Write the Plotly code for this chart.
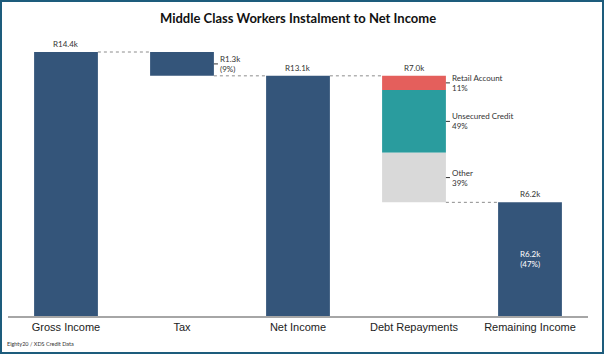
import plotly.graph_objects as go

categories = ["Gross Income", "Tax", "Net Income", "Debt Repayments", "Remaining Income"]
gross = 14.4
tax = 1.3
net = 13.1
debt_total = 7.0
debt_names = ["Retail Account", "Unsecured Credit", "Other"]
debt_values = [0.77, 3.43, 2.7]
debt_pcts = ["11%", "49%", "39%"]
debt_colors = ["#e45f5c", "#2a9c9e", "#d9d9d9"]
remaining = 6.2
tax_pct = "(9%)"
remaining_pct = "(47%)"

navy = "#34557a"
W = 0.55
fig = go.Figure()

fig.add_trace(go.Bar(x=[categories[0]], y=[gross], base=[0], marker_color=navy, width=W))
fig.add_trace(go.Bar(x=[categories[1]], y=[tax], base=[gross - tax], marker_color=navy, width=W))
fig.add_trace(go.Bar(x=[categories[2]], y=[net], base=[0], marker_color=navy, width=W))
top = net
seg_centers = []
for name, v, c in zip(debt_names, debt_values, debt_colors):
    fig.add_trace(go.Bar(x=[categories[3]], y=[v], base=[top - v], marker_color=c, width=W))
    seg_centers.append(top - v / 2)
    top -= v
debt_bottom = top
fig.add_trace(go.Bar(x=[categories[4]], y=[remaining], base=[0], marker_color=navy, width=W))
fig.update_traces(marker_line_width=0, showlegend=False, hoverinfo="skip")

# connectors
conn = [(0, gross), (1, gross - tax), (2, net), (3, debt_bottom)]
for i, yv in conn:
    fig.add_shape(type="line", xref="x", yref="y", x0=i + W / 2, x1=i + 1 - W / 2, y0=yv, y1=yv,
                  line=dict(color="#8c8c8c", width=1, dash="dot"))

lab = dict(family="Lato, Open Sans, sans-serif", size=8, color="#333333")
ann = []
ann.append(dict(x=0, y=gross, text="R%.1fk" % gross, yanchor="bottom", yshift=1))
ann.append(dict(x=2, y=net, text="R%.1fk" % net, yanchor="bottom", yshift=1))
ann.append(dict(x=3, y=net, text="R%.1fk" % debt_total, yanchor="bottom", yshift=1))
ann.append(dict(x=4, y=remaining, text="R%.1fk" % remaining, yanchor="bottom", yshift=1))
ann.append(dict(x=1 + W / 2, y=gross - tax / 2, text="R%.1fk<br>%s" % (tax, tax_pct), xanchor="left", xshift=4, align="left"))
for (name, pct, yc) in zip(debt_names, debt_pcts, seg_centers):
    ann.append(dict(x=3 + W / 2, y=yc, text="%s<br>%s" % (name, pct), xanchor="left", xshift=4, align="left"))
ann.append(dict(x=4, y=remaining / 2, text="R%.1fk<br>%s" % (remaining, remaining_pct),
                font=dict(family="Lato, Open Sans, sans-serif", size=8, color="white")))
for a in ann:
    a.setdefault("xanchor", "center")
    a.setdefault("font", lab)
    fig.add_annotation(xref="x", yref="y", showarrow=False, **a)

# small tick marks beside side labels
for yc in [gross - tax / 2] + seg_centers:
    xi = (1 if yc > net else 3) + W / 2
    fig.add_shape(type="line", xref="x", yref="y", x0=xi, x1=xi + 0.035, y0=yc, y1=yc,
                  line=dict(color="#333333", width=1))

fig.add_annotation(xref="paper", yref="paper", x=0.5, y=1.0, yshift=12, yanchor="middle", showarrow=False,
                   text="<b>Middle Class Workers Instalment to Net Income</b>",
                   font=dict(family="Lato, Open Sans, sans-serif", size=13, color="#111111"))
fig.add_annotation(xref="paper", yref="paper", x=-0.005, y=0, yshift=-28, xanchor="left", yanchor="middle",
                   showarrow=False, text="Eighty20 / XDS Credit Data",
                   font=dict(family="Lato, sans-serif", size=5.5, color="#333333"))

# outer border
fig.add_shape(type="rect", xref="paper", yref="paper", x0=(1 - 8) / 580, x1=(603 - 8) / 580,
              y0=(316 - 353) / 286, y1=(316 - 1) / 286, line=dict(color="#1d5c7c", width=2))

fig.update_layout(
    width=604, height=354, margin=dict(l=8, r=16, t=30, b=38),
    paper_bgcolor="white", plot_bgcolor="white", bargap=0.45,
    xaxis=dict(type="category", showline=True, linecolor="#a6a6a6", linewidth=1.5, ticks="",
               tickfont=dict(family="Arial, Liberation Sans, sans-serif", size=11, color="#222222"),
               showgrid=False, range=[-0.5, 4.5]),
    yaxis=dict(range=[0, 15.6], visible=False, showgrid=False),
    barmode="overlay",
)
fig.write_html("out.html")
